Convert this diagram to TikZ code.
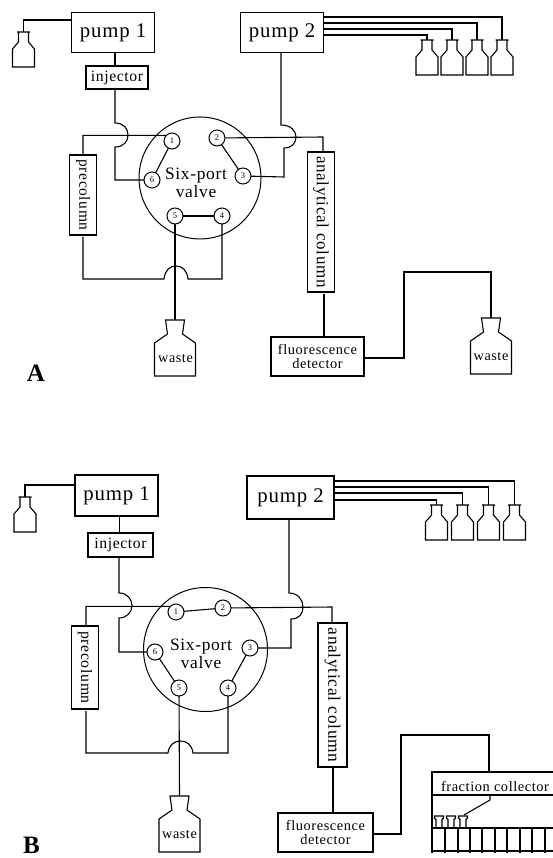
\documentclass[tikz,border=0pt]{standalone}
\usepackage{fontspec}
\setmainfont{Liberation Serif}[LetterSpace=4]
\usepackage{tikz}
\usetikzlibrary{positioning,calc}
\newcommand{\fs}[1]{\fontsize{#1}{#1}\selectfont}

\begin{document}
\begin{tikzpicture}[
    x=1pt, y=-1pt,
    line join=miter,
    pipe/.style={draw=black, line width=1.1pt},
    pumpbox/.style={draw, line width=1.2pt, minimum width=83pt, minimum height=40pt, inner sep=0pt, outer sep=0pt, font=\fs{20.8}},
    injbox/.style={draw, line width=1.2pt, minimum width=62pt, minimum height=23pt, inner sep=0pt, outer sep=0pt, font=\fs{15.7}},
    colbox/.style={draw, line width=1.2pt, rotate=-90, inner sep=0pt, outer sep=0pt, minimum height=27pt},
    detbox/.style={draw, line width=1.2pt, minimum width=93pt, minimum height=39pt, inner sep=0pt, outer sep=0pt, align=center, font=\fs{14.4}},
    valvecirc/.style={circle, draw, line width=1pt, inner sep=0pt, outer sep=0pt},
    port/.style={circle, draw, fill=white, line width=1pt, minimum size=16pt, inner sep=0pt, outer sep=0pt, font=\fs{8.5}},
    lab/.style={align=center, inner sep=0pt, font=\fs{17.4}},
    wastelab/.style={inner sep=0pt, font=\fs{14.2}},
    panel/.style={inner sep=0pt, font=\fs{25}\bfseries},
    smallbottle/.pic={\draw[pipe] (-6.5,0) -- (6.5,0) (5,0) -- (5,10) -- (11,17) -- (11,35) -- (-11,35) -- (-11,17) -- (-5,10) -- (-5,0);},
    wastebottle/.pic={\draw[pipe] (-9.5,0) -- (9.5,0) -- (7.5,14) -- (20.5,23) -- (20.5,56) -- (-20.5,56) -- (-20.5,23) -- (-7.5,14) -- cycle;},
    funnel/.pic={\draw[pipe] (-3,12) -- (-3,3.5) -- (-4.5,2) -- (-4.5,0) -- (4.5,0) -- (4.5,2) -- (3,3.5) -- (3,12);}
]
    \useasboundingbox (0,0) rectangle (553,858);

    \node[pumpbox] (pumpaA) at (113,32.5) {pump 1};
    \node[pumpbox, right=86pt of pumpaA] (pumpbA) {pump 2};
    \node[injbox, below=13.5pt of pumpaA, xshift=4pt] (injA) {injector};
    \node[valvecirc, minimum size=122pt] (valveA) at (200,178) {};
    \node[lab] (valvelabA) at (196,183) {Six-port\\[1pt]valve};
    \node[port] (p1A) at (172,141) {1};
    \node[port] (p2A) at (217,138) {2};
    \node[port] (p3A) at (243,176) {3};
    \node[port] (p4A) at (222,216) {4};
    \node[port] (p5A) at (175,216) {5};
    \node[port] (p6A) at (152,180) {6};
    \node[colbox, minimum width=80pt, font=\fs{15.5}] (preA) at (83,195) {precolumn};
    \node[colbox, minimum width=140pt, font=\fs{17}] (anaA) at (321,222) {analytical column};
    \node[detbox] (detA) at (317.5,356.5) {fluorescence\\[0pt]detector};
    \node[wastelab] (wasteaA) at (175.5,359) {waste};
    \node[wastelab] (wastebA) at (491,357) {waste};
    \node[panel] (panelA) at (36,373) {A};

    \coordinate (bota) at (23.5,32);
    \coordinate (botb) at (427,40);
    \coordinate (botc) at (452,40);
    \coordinate (botd) at (477,40);
    \coordinate (bote) at (502,40);
    \coordinate (wtopaA) at (175,320);
    \coordinate (wtopbA) at (491,318);
    \foreach \b in {bota,botb,botc,botd,bote} {\pic at (\b) {smallbottle};}
    \pic at (wtopaA) {wastebottle};
    \pic at (wtopbA) {wastebottle};

    \draw[pipe] (pumpaA.west |- 0,20) -| (bota);
    \draw[pipe] (pumpbA.east |- 0,17) -| (bote);
    \draw[pipe] (pumpbA.east |- 0,23) -| (botd);
    \draw[pipe] (pumpbA.east |- 0,29) -| (botc);
    \draw[pipe] (pumpbA.east |- 0,35) -| (botb);
    \draw[pipe] (pumpaA.south -| 115,0) -- (injA.north -| 115,0);
    \draw[pipe] (injA.south -| 115,0) -- (115,123) .. controls (124,123) and (128,129) .. (128,135) .. controls (128,141) and (124,147) .. (115,147) -- (115,180) -- (p6A);
    \draw[pipe] (pumpbA.south -| 281,0) -- (281,125) .. controls (291,125) and (296,131) .. (296,137) .. controls (296,143) and (292,148) .. (284,148) -- (284,177) -- (p3A);
    \draw[pipe] (p1A.north west) -- (83,135.4) -- (preA.west -| 83,0);
    \draw[pipe] (p2A) -- (323,137) -- (anaA.west -| 323,0);
    \draw[pipe] (p1A) -- (p6A);
    \draw[pipe] (p2A) -- (p3A);
    \draw[pipe] (p5A) -- (p4A);
    \draw[pipe] (p5A) -- (wtopaA);
    \draw[pipe] (83,237) -- (83,279) -- (164,279) .. controls (165,270) and (170,266) .. (176,266) .. controls (182,266) and (187,270) .. (188,279) -- (222,279) -- (p4A);
    \draw[pipe] (anaA.east -| 324,0) ++(0,2) -- (detA.north -| 324,0);
    \draw[pipe] (detA.east |- 0,358) -- (404,358) -- (404,272) -- (491,272) -- (wtopbA);

    \node[pumpbox, minimum width=83pt, minimum height=41pt] (pumpaB) at (116.5,495.5) {pump 1};
    \node[pumpbox, minimum width=87pt, minimum height=43pt] (pumpbB) at (290.5,497.5) {pump 2};
    \node[injbox, minimum width=65pt, minimum height=24pt, below=17pt of pumpaB, xshift=4pt] (injB) {injector};
    \node[valvecirc, minimum size=124pt] (valveB) at (205.5,649.5) {};
    \node[lab] (valvelabB) at (201,654) {Six-port\\[1pt]valve};
    \node[port] (p1B) at (176,612) {1};
    \node[port] (p2B) at (223,608) {2};
    \node[port] (p3B) at (250,648) {3};
    \node[port] (p4B) at (228,688) {4};
    \node[port] (p5B) at (179,688) {5};
    \node[port] (p6B) at (155,652) {6};
    \node[colbox, minimum width=83pt, font=\fs{15.8}] (preB) at (85,667.5) {precolumn};
    \node[colbox, minimum width=144pt, minimum height=29pt, font=\fs{17.4}] (anaB) at (332.5,695) {analytical column};
    \node[detbox, minimum width=95pt] (detB) at (325.5,832.5) {fluorescence\\[0pt]detector};
    \node[wastelab] (wasteB) at (179.5,835) {waste};
    \node[inner sep=0pt, font=\fs{14.4}] (fracB) at (495,786) {fraction collector};
    \node[panel] (panelB) at (31.5,845) {B};

    \coordinate (botf) at (25,497);
    \coordinate (botg) at (436.5,505);
    \coordinate (both) at (462.5,505);
    \coordinate (boti) at (488.5,505);
    \coordinate (botj) at (514.5,505);
    \coordinate (wtopB) at (179.5,796);
    \coordinate (tubeB) at (490,795);
    \foreach \b in {botf,botg,both,boti,botj} {\pic at (\b) {smallbottle};}
    \pic at (wtopB) {wastebottle};

    \draw[pipe] (pumpaB.west |- 0,485) -| (botf);
    \draw[pipe] (pumpbB.east |- 0,481) -| (botj);
    \draw[pipe] (pumpbB.east |- 0,487) -| (boti);
    \draw[pipe] (pumpbB.east |- 0,493) -| (both);
    \draw[pipe] (pumpbB.east |- 0,500) -| (botg);
    \draw[pipe] (pumpaB.south -| 119.5,0) -- (injB.north -| 119.5,0);
    \draw[pipe] (injB.south -| 119,0) -- (119,593) .. controls (127,593) and (132,599) .. (132,605.5) .. controls (132,612) and (127,618) .. (119,618) -- (119,652) -- (p6B);
    \draw[pipe] (pumpbB.south -| 289,0) -- (289,593) .. controls (298,593) and (303,600) .. (303,607) .. controls (303,614) and (299,619) .. (291,619) -- (291,648) -- (p3B);
    \draw[pipe] (p1B.north west) -- (86,606.4) -- (preB.west -| 86,0);
    \draw[pipe] (p1B) -- (p2B);
    \draw[pipe] (p2B) -- (332,607) -- (anaB.west -| 332,0);
    \draw[pipe] (p6B) -- (p5B);
    \draw[pipe] (p3B) -- (p4B);
    \draw[pipe] (p5B) -- (wtopB);
    \draw[pipe] (86,711) -- (86,753) -- (168,753) .. controls (169,745) and (174,741) .. (180.5,741) .. controls (187,741) and (192,745) .. (193,753) -- (228,753) -- (p4B);
    \draw[pipe] (anaB.east -| 333,0) -- (detB.north -| 333,0);
    \draw[pipe] (detB.east |- 0,834) -- (401,834) -- (401,735) -- (489,735) -- (489,772);

    \draw[pipe] (553,772) -- (432,772) -- (432,828);
    \draw[pipe] (432,795) -- (553,795);
    \draw[pipe] (432,828) -- (553,828);
    \draw[pipe] (432,851) -- (553,851);
    \foreach \x in {432,445,458,470,482,495,507,520,532,545} {\draw[pipe] (\x,828) -- (\x,853);}
    \foreach \x in {439,451,463} {\pic at (\x,816) {funnel};}
    \draw[pipe] (tubeB) -- (490,800) -- (464,815);
\end{tikzpicture}
\end{document}
